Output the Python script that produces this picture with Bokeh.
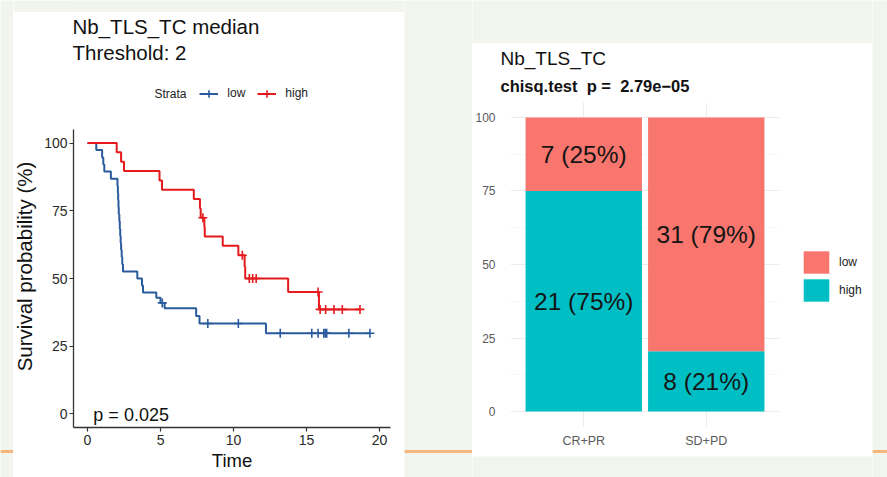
import math
from bokeh.plotting import figure
from bokeh.layouts import row, column
from bokeh.models import (Range1d, FactorRange, FixedTicker, Label, Legend, LegendItem,
                          Span, ColumnDataSource)
from bokeh.core.properties import value
from bokeh.embed import file_html
from bokeh.resources import INLINE

FONT = "Liberation Sans"
PAGE_BG = "#f1f5ee"
ACCENT = "#f7b67c"
RED = "#e41a1c"
BLUE = "#2a5b9c"
PINK = "#F8766D"
TEAL = "#00BFC4"
NBSP = "\u00a0"

# ---------------- Kaplan-Meier data (time, survival % after each drop) ----------------
low_times = [0.6, 1.0, 1.08, 1.15, 1.6, 2.05, 2.08, 2.1, 2.12, 2.14, 2.18, 2.21, 2.24,
             2.27, 2.3, 2.34, 2.38, 2.43, 3.41, 3.73, 3.8, 4.71, 5.0, 5.28, 7.44, 7.67, 12.22]
low_surv = [97.4, 94.7, 92.1, 89.5, 86.8, 84.2, 81.6, 78.9, 76.3, 73.7, 71.1, 68.4, 65.8,
            63.2, 60.5, 57.9, 55.3, 52.6, 50.0, 47.4, 44.8, 42.9, 41.0, 39.0, 36.2, 33.4, 29.8]
low_end = 19.34
low_censor = [5.12, 8.24, 10.33, 13.2, 15.36, 15.79, 16.18, 16.28, 16.38, 17.9, 19.34]

high_times = [2.0, 2.3, 2.5, 4.93, 5.1, 7.28, 7.7, 7.75, 8.0, 8.03, 9.26, 10.33, 10.76,
              10.8, 13.74, 15.85]
high_surv = [96.6, 93.1, 89.7, 86.2, 82.8, 79.3, 75.9, 72.4, 69.0, 65.5, 62.1, 58.6, 54.3,
             50.0, 45.0, 38.6]
high_end = 18.66
high_censor = [7.9, 10.6, 11.08, 11.31, 11.55, 15.79, 15.93, 16.31, 16.88, 17.45, 18.66]

km_x_ticks = [0, 5, 10, 15, 20]
km_y_ticks = [0, 25, 50, 75, 100]
logrank_p = "0.025"

# ---------------- response vs. TLS group counts ----------------
response = ["CR+PR", "SD+PD"]
n_high = [21, 8]
n_low = [7, 31]
bar_y_ticks = [0, 25, 50, 75, 100]
bar_y_minor = [12.5, 37.5, 62.5, 87.5]
chisq_p = "2.79e\u221205"


def step_xy(times, surv, end):
    return [0] + times + [end], [100] + surv + [surv[-1]]


def level_at(t, times, surv):
    s = 100
    for ti, si in zip(times, surv):
        if ti <= t:
            s = si
    return s


def blank(width, height, bg="white", left=0, right=0, top=0, bottom=0):
    """A figure without axes, used for headers, keys, axis titles and the page margins."""
    return figure(width=width, height=height, x_range=Range1d(0, width),
                  y_range=Range1d(0, height), x_axis_type=None, y_axis_type=None,
                  min_border_left=left, min_border_right=right, min_border_top=top,
                  min_border_bottom=bottom, toolbar_location=None, output_backend="svg",
                  background_fill_color=bg, border_fill_color=bg, outline_line_color=None)


def margin(width, height):
    return blank(width, height, PAGE_BG)


def gap(width):
    g = margin(width, 477)
    g.add_layout(Span(location=26, dimension="width", line_color=ACCENT, line_width=3))
    return g


def text_label(x, y, text, size, baseline="alphabetic", style="normal", color="#111111",
               angle=0.0, align="left"):
    return Label(x=x, y=y, x_units="screen", y_units="screen", text=text,
                 text_font=FONT, text_font_size=size, text_font_style=style,
                 text_color=color, text_baseline=baseline, angle=angle, text_align=align)


# key-only renderers sit at a single point outside the header's visible range
OFF = [-1000]

# ================= survival panel =================
# header frame spans the same columns as the curve frame below it
km_head = blank(391, 117, left=59, right=14)
km_head.add_layout(text_label(0, 102.7, "Nb_TLS_TC median", "20.5px"))
km_head.add_layout(text_label(0, 77, "Threshold: 2", "20.5px"))
km_head.add_layout(text_label(82, 35.7, "Strata", "12px", "middle", color="#222222"))
key_low_line = km_head.line(x=OFF, y=OFF, line_color=BLUE, line_width=2)
key_low_cross = km_head.scatter(x=OFF, y=OFF, marker="cross", size=9, line_color=BLUE,
                                line_width=1.6)
key_high_line = km_head.line(x=OFF, y=OFF, line_color=RED, line_width=2)
key_high_cross = km_head.scatter(x=OFF, y=OFF, marker="cross", size=9, line_color=RED,
                                 line_width=1.6)
km_head.add_layout(Legend(
    items=[LegendItem(label="low", renderers=[key_low_line, key_low_cross]),
           LegendItem(label="high", renderers=[key_high_line, key_high_cross])],
    orientation="horizontal", location=(127.3, 26.2),
    glyph_width=19, glyph_height=19, label_standoff=9, spacing=10,
    padding=0, margin=0, border_line_color=None, background_fill_alpha=0,
    label_text_font=FONT, label_text_font_size="12px", label_text_color="#222222"))

# y-axis title column, its frame matching the curve frame's height
km_ytitle = blank(28, 348, bottom=50)
km_ytitle.add_layout(text_label(10.5, 161, "Survival probability (%)", "20.5px",
                                angle=math.pi / 2, align="center"))

km = figure(width=363, height=348, x_range=Range1d(-0.96, 20.75), y_range=Range1d(-5, 105),
            toolbar_location=None, output_backend="svg",
            min_border_left=31, min_border_right=14, min_border_top=0, min_border_bottom=50,
            background_fill_color="white", border_fill_color="white", outline_line_color=None)
km.grid.visible = False

for ax in (km.xaxis[0], km.yaxis[0]):
    ax.axis_line_color = "#333333"
    ax.axis_line_width = 1.3
    ax.major_tick_line_color = "#333333"
    ax.major_tick_line_width = 1.2
    ax.major_tick_out = 4
    ax.major_tick_in = 0
    ax.minor_tick_line_color = None
    ax.major_label_text_font = FONT
    ax.major_label_text_font_size = "14px"
    ax.major_label_text_color = "#2a2a2a"
    ax.axis_label_text_font = FONT
    ax.axis_label_text_font_style = "normal"
    ax.axis_label_text_color = "#111111"

km.xaxis.ticker = FixedTicker(ticks=km_x_ticks)
km.yaxis.ticker = FixedTicker(ticks=km_y_ticks)
km.xaxis.axis_label = "Time"
km.xaxis.axis_label_text_font_size = "18.5px"
km.xaxis.major_label_standoff = 3
km.xaxis.axis_label_standoff = 2
km.yaxis.major_label_standoff = 2

lx, ly = step_xy(low_times, low_surv, low_end)
hx, hy = step_xy(high_times, high_surv, high_end)
km.step(lx, ly, mode="after", line_color=BLUE, line_width=2)
km.step(hx, hy, mode="after", line_color=RED, line_width=2)
km.scatter(low_censor, [level_at(t, low_times, low_surv) for t in low_censor],
           marker="cross", size=9, line_color=BLUE, line_width=1.6)
km.scatter(high_censor, [level_at(t, high_times, high_surv) for t in high_censor],
           marker="cross", size=9, line_color=RED, line_width=1.6)
km.add_layout(Label(x=0.4, y=-0.3, text="p = " + logrank_p, text_font=FONT,
                    text_font_size="18px", text_color="#111111",
                    text_baseline="alphabetic"))

# ================= stacked proportion panel =================
tot = [h + l for h, l in zip(n_high, n_low)]
pct_high = [100 * h / t for h, t in zip(n_high, tot)]
pct_low = [100 * l / t for l, t in zip(n_low, tot)]
src = ColumnDataSource(dict(
    resp=response, zero=[0] * len(response), pct_high=pct_high,
    full=[100] * len(response),
    high_mid=[p / 2 for p in pct_high],
    low_mid=[ph + pl / 2 for ph, pl in zip(pct_high, pct_low)],
    high_lab=[f"{h} ({round(p)}%)" for h, p in zip(n_high, pct_high)],
    low_lab=[f"{l} ({round(p)}%)" for l, p in zip(n_low, pct_low)],
))

bar_head = blank(400, 59)
bar_head.add_layout(text_label(28, 44, "Nb_TLS_TC", "19px"))
bar_head.add_layout(text_label(28, 17, f"chisq.test{NBSP*2}p ={NBSP*2}" + chisq_p,
                               "16.5px", style="bold"))

bar = figure(width=307, height=354, x_range=FactorRange(*response, range_padding=0.098),
             y_range=Range1d(-5.1, 105.1), toolbar_location=None, output_backend="svg",
             min_border_left=29, min_border_right=0, min_border_top=0, min_border_bottom=30,
             background_fill_color="white", border_fill_color="white", outline_line_color=None)

bar.xgrid.grid_line_color = "#ebebeb"
bar.xgrid.grid_line_width = 1.1
bar.ygrid.grid_line_color = "#ebebeb"
bar.ygrid.grid_line_width = 1.1
bar.ygrid.minor_grid_line_color = "#f2f2f2"
bar.ygrid.minor_grid_line_width = 0.6
bar.yaxis.ticker = FixedTicker(ticks=bar_y_ticks, minor_ticks=bar_y_minor)
for ax in (bar.xaxis[0], bar.yaxis[0]):
    ax.axis_line_color = None
    ax.major_tick_line_color = None
    ax.minor_tick_line_color = None
    ax.major_label_text_font = FONT
    ax.major_label_text_color = "#5a5a5a"
bar.yaxis.major_label_text_font_size = "12px"
bar.yaxis.major_label_standoff = 9
bar.xaxis.major_label_text_font_size = "12.5px"
bar.xaxis.major_label_standoff = 1

high_r = bar.vbar(x="resp", bottom="zero", top="pct_high", width=0.95, source=src,
                  fill_color=TEAL, line_color=None)
low_r = bar.vbar(x="resp", bottom="pct_high", top="full", width=0.95, source=src,
                 fill_color=PINK, line_color=None)
bar.text(x="resp", y="high_mid", text="high_lab", source=src, text_font=value(FONT),
         text_font_size="24.5px", text_align="center", text_baseline="middle",
         text_color="#151515")
bar.text(x="resp", y="low_mid", text="low_lab", source=src, text_font=value(FONT),
         text_font_size="24.5px", text_align="center", text_baseline="middle",
         text_color="#151515")

bar_key = blank(93, 354)
key_low = bar_key.vbar(x=OFF, top=[0], width=1, fill_color=PINK, line_color=None)
key_high = bar_key.vbar(x=OFF, top=[0], width=1, fill_color=TEAL, line_color=None)
bar_key.add_layout(Legend(
    items=[LegendItem(label="low", renderers=[key_low]),
           LegendItem(label="high", renderers=[key_high])],
    location=(21, 122.5), glyph_width=32, glyph_height=28, spacing=-2,
    label_standoff=7, padding=0, margin=0, border_line_color=None,
    background_fill_alpha=0, label_text_font=FONT,
    label_text_font_size="12px", label_text_color="#222222"))

# ================= page layout =================
left_col = column(margin(391, 12), km_head, row(km_ytitle, km, spacing=0), spacing=0)
right_col = column(margin(400, 43), bar_head, row(bar, bar_key, spacing=0),
                   margin(400, 21), spacing=0)
page = row(gap(13), left_col, gap(68), right_col, gap(15), spacing=0,
           styles={"background-color": "white"})

open("out.html", "w").write(file_html(page, INLINE))
